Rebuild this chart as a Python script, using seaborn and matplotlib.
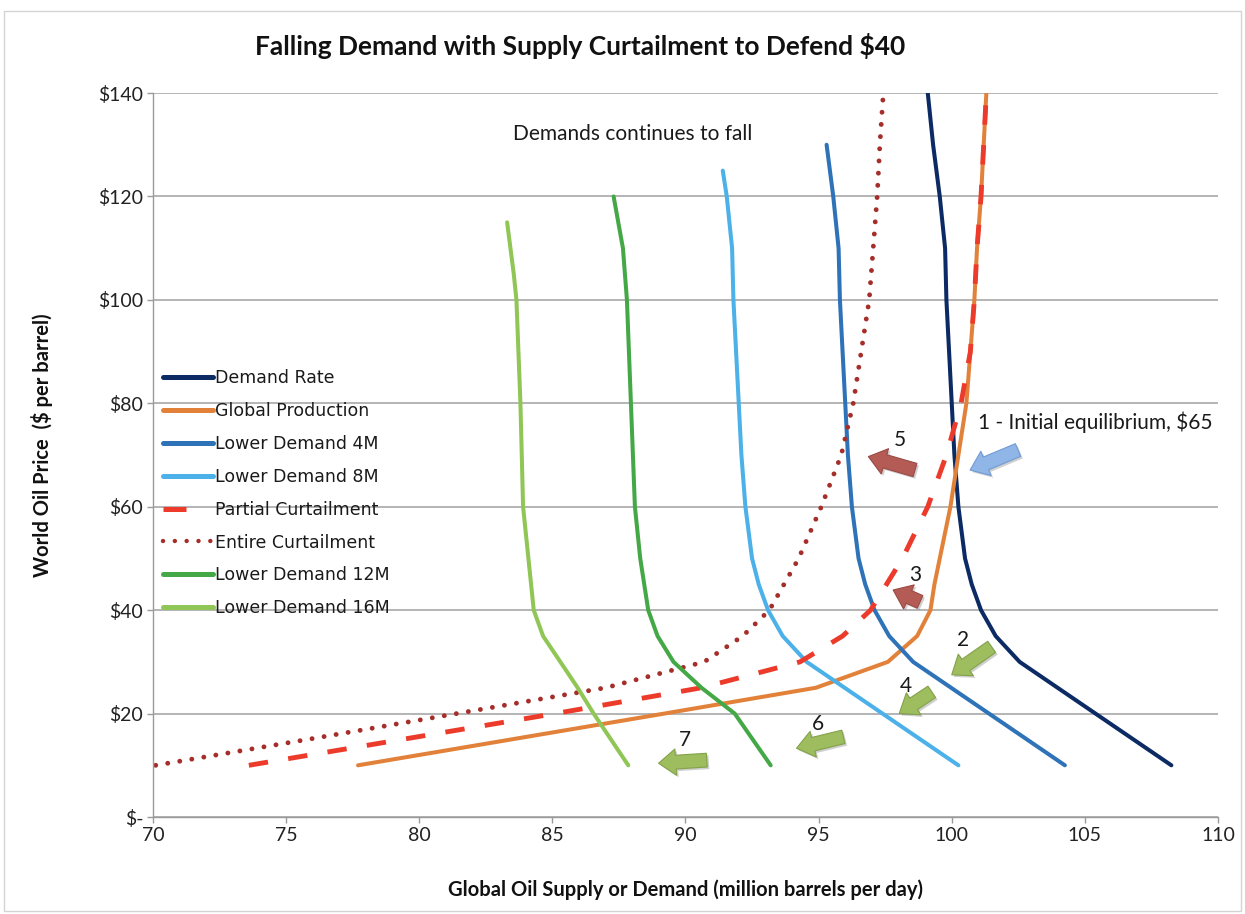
import matplotlib
matplotlib.use("Agg")
import matplotlib.pyplot as plt
import matplotlib.patheffects as pe
from matplotlib.lines import Line2D
from matplotlib.patches import Rectangle, ArrowStyle
import pandas as pd
import seaborn as sns

# ---- demand curves: price ($/bbl) vs quantity (million bbl/day) ----
demand_price = [10, 20, 30, 35, 40, 45, 50, 60, 70, 80, 90, 100, 110, 120, 130, 140]
demand_rate = [108.25, 105.4, 102.55, 101.65, 101.1, 100.75, 100.5, 100.25, 100.1,
               100.0, 99.9, 99.8, 99.75, 99.55, 99.3, 99.1]

lower4_price = [10, 20, 30, 35, 40, 45, 50, 60, 70, 80, 90, 100, 110, 120, 130]
lower4 = [104.25, 101.4, 98.55, 97.65, 97.1, 96.75, 96.5, 96.25, 96.1, 96.0,
          95.9, 95.8, 95.75, 95.55, 95.3]

lower8_price = [10, 20, 30, 35, 40, 45, 50, 60, 70, 80, 90, 100, 110, 120, 125]
lower8 = [100.25, 97.4, 94.55, 93.65, 93.1, 92.75, 92.5, 92.25, 92.1, 92.0,
          91.9, 91.8, 91.75, 91.55, 91.4]

lower12_price = [10, 20, 25, 30, 35, 40, 50, 60, 80, 100, 110, 120]
lower12 = [93.2, 91.85, 90.6, 89.55, 88.95, 88.6, 88.3, 88.1, 87.95, 87.8, 87.65, 87.3]

lower16_price = [10, 20, 25, 30, 35, 40, 60, 80, 100, 105, 115]
lower16 = [87.85, 86.55, 85.95, 85.3, 84.65, 84.3, 83.9, 83.8, 83.65, 83.55, 83.3]

# ---- supply curves ----
supply_price = [10, 20, 25, 30, 35, 40, 45, 50, 60, 70, 80, 90, 100, 110, 120, 130, 140]
global_production = [77.7, 89.2, 94.9, 97.6, 98.7, 99.2, 99.35, 99.55, 99.95, 100.25,
                     100.55, 100.7, 100.85, 100.95, 101.1, 101.2, 101.3]
partial_curtailment = [73.6, 85.1, 90.6, 94.3, 95.9, 96.95, 97.55, 98.15, 99.1, 99.8,
                       100.35, 100.7, 100.85, 100.95, 101.1, 101.2, 101.3]
entire_price = [10, 15, 20, 25, 30, 35, 40, 45, 50, 60, 70, 80, 90, 100, 110, 120, 130, 140]
entire_curtailment = [70.1, 75.8, 81.4, 87.0, 90.7, 92.15, 93.15, 93.7, 94.25, 95.1,
                      95.85, 96.3, 96.6, 96.9, 97.05, 97.2, 97.3, 97.43]

x_ticks = [70, 75, 80, 85, 90, 95, 100, 105, 110]
y_ticks = [0, 20, 40, 60, 80, 100, 120, 140]
y_tick_labels = ["$-", "$20", "$40", "$60", "$80", "$100", "$120", "$140"]

# numbered steps: (label, label position, arrow tail, arrow head, colour)
steps = [
    ("5", (98.06, 72.9), (98.62, 67.1), (96.87, 69.7), "red"),
    ("3", (98.62, 46.8), (98.81, 41.6), (97.80, 43.9), "red"),
    ("2", (100.42, 34.2), (101.50, 32.9), (100.00, 27.5), "green"),
    ("4", (98.28, 25.3), (99.25, 24.2), (98.03, 20.05), "green"),
    ("6", (94.98, 18.0), (95.93, 15.5), (94.17, 13.3), "green"),
    ("7", (89.98, 14.9), (90.80, 11.0), (88.99, 10.4), "green"),
]

sns.set_theme(style="white")
plt.rcParams["font.family"] = ["Lato", "DejaVu Sans"]

fig = plt.figure(figsize=(12.45, 9.14), dpi=100)
ax = fig.add_axes([0.1229, 0.1061, 0.8554, 0.7921])

series = [
    ("Demand Rate", demand_rate, demand_price, "#0c2a63", "-", 2.9),
    ("Global Production", global_production, supply_price, "#e2823a", "-", 2.9),
    ("Lower Demand 4M", lower4, lower4_price, "#2e72b8", "-", 2.9),
    ("Lower Demand 8M", lower8, lower8_price, "#4cb1e8", "-", 2.9),
    ("Partial Curtailment", partial_curtailment, supply_price, "#ec3b2a", (0, (4.0, 4.2)), 3.5),
    ("Entire Curtailment", entire_curtailment, entire_price, "#a52e2a", (0, (0.01, 2.5)), 3.5),
    ("Lower Demand 12M", lower12, lower12_price, "#45a846", "-", 2.9),
    ("Lower Demand 16M", lower16, lower16_price, "#8fc656", "-", 2.9),
]

handles = []
for name, qty, price, color, ls, lw in series:
    df = pd.DataFrame({"qty": qty, "price": price})
    cap = "round" if name == "Entire Curtailment" else "butt"
    sns.lineplot(data=df, x="qty", y="price", sort=False, estimator=None, ax=ax,
                 color=color, linestyle=ls, linewidth=lw, solid_capstyle="round",
                 dash_capstyle=cap, legend=False)
    if name == "Partial Curtailment":
        h = Line2D([], [], color=color, lw=3.6, dashes=(4.6, 20))
    elif name == "Entire Curtailment":
        h = Line2D([], [], color=color, lw=3.2, dashes=(0.01, 2.65), dash_capstyle="round")
    else:
        h = Line2D([], [], color=color, lw=3.6)
    handles.append((h, name))

ax.set_xlim(70, 110)
ax.set_ylim(0, 140)
ax.set_xticks(x_ticks)
ax.set_xticklabels([str(v) for v in x_ticks])
ax.set_yticks(y_ticks)
ax.set_yticklabels(y_tick_labels)
ax.tick_params(axis="both", labelsize=14, colors="#222222", length=4, width=1,
               direction="out", left=True, bottom=True, pad=3)
ax.tick_params(axis="both", color="#9a9a9a")
ax.yaxis.grid(True, color="#a8a8a8", lw=1.2)
ax.xaxis.grid(False)
ax.set_axisbelow(True)
for side in ("top", "right"):
    ax.spines[side].set_visible(False)
for side in ("left", "bottom"):
    ax.spines[side].set_color("#9a9a9a")
    ax.spines[side].set_linewidth(1.0)

ax.set_xlabel("Global Oil Supply or Demand (million barrels per day)",
              fontsize=14.5, fontweight="bold", labelpad=26, color="#111111")
ax.set_ylabel("World Oil Price  ($ per barrel)", fontsize=14.5, fontweight="bold",
              color="#111111")
ax.yaxis.set_label_coords(-0.094, 0.514)
fig.text(0.466, 0.950, "Falling Demand with Supply Curtailment to Defend $40",
         fontsize=19, fontweight="bold", ha="center", va="center", color="#111111")

leg = ax.legend([h for h, _ in handles], [n for _, n in handles],
                loc="upper left", bbox_to_anchor=(0.0094, 0.619), frameon=False,
                prop={"family": "DejaVu Sans", "size": 12.5},
                handlelength=2.87, handletextpad=0.11, labelspacing=0.86, borderpad=0,
                borderaxespad=0)
for t in leg.get_texts():
    t.set_color("#1a1a1a")

# annotations
ax.text(88.0, 132.1, "Demands continues to fall", fontsize=15, ha="center",
        va="center", color="#1a1a1a")
ax.text(100.99, 76.4, "1 - Initial equilibrium, $65", fontsize=15, ha="left",
        va="center", color="#1a1a1a")

fills = {"green": ("#9dbd5e", "#83a24a"), "red": ("#b45b55", "#9a4a45"),
         "blue": ("#8fb6e6", "#6f9bd4")}
style = ArrowStyle.Simple(head_length=0.75, head_width=1.15, tail_width=0.6)
shadow = [pe.SimplePatchShadow(offset=(1.5, -1.5), shadow_rgbFace="#777777", alpha=0.35),
          pe.Normal()]


def block_arrow(tail, head, kind):
    fc, ec = fills[kind]
    ann = ax.annotate("", xy=head, xytext=tail,
                      arrowprops=dict(arrowstyle=style, mutation_scale=16.5, fc=fc, ec=ec,
                                      lw=0.8, shrinkA=0, shrinkB=0))
    ann.arrow_patch.set_path_effects(shadow)


block_arrow((102.49, 70.97), (100.69, 67.1), "blue")
for label, pos, tail, head, kind in steps:
    ax.text(pos[0], pos[1], label, fontsize=15, ha="center", va="center", color="#1a1a1a")
    block_arrow(tail, head, kind)

fig.add_artist(Rectangle((0.003, 0.003), 0.994, 0.985, transform=fig.transFigure,
                         fill=False, ec="#d4d4d4", lw=1.0))

fig.savefig("out.png", dpi=100)
